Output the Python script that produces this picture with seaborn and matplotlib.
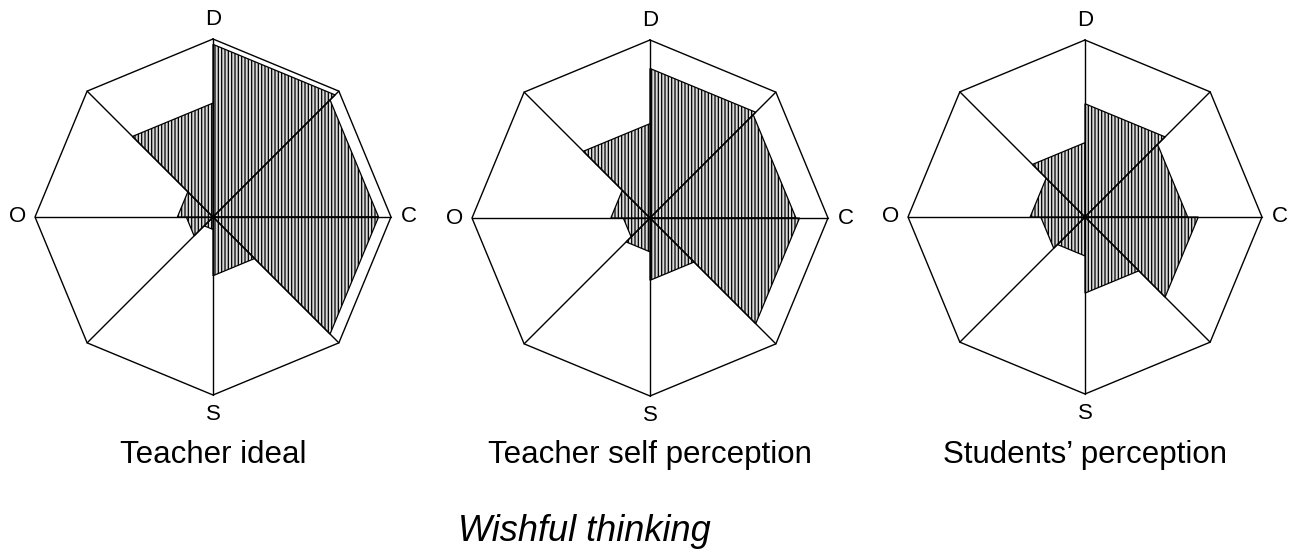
import numpy as np
import matplotlib
matplotlib.use('Agg')
import matplotlib.pyplot as plt
from matplotlib.patches import Polygon
import seaborn as sns

# Sector scores, clockwise from D: D-DC, DC-C, C-CS, CS-S, S-SO, SO-O, O-OD, OD-D
teacher_ideal = [0.97, 0.93, 0.93, 0.33, 0.07, 0.15, 0.20, 0.64]
teacher_self = [0.84, 0.82, 0.84, 0.35, 0.19, 0.15, 0.22, 0.53]
students = [0.64, 0.58, 0.64, 0.43, 0.22, 0.25, 0.31, 0.42]

panel_titles = ['Teacher ideal', 'Teacher self perception', 'Students\u2019 perception']
axis_labels = ['D', 'C', 'S', 'O']
main_title = 'Wishful thinking'

sns.set_theme(style='white')
plt.rcParams['font.family'] = ['Liberation Sans', 'DejaVu Sans']
plt.rcParams['text.color'] = 'black'
plt.rcParams['hatch.color'] = '#8a8a8a'
plt.rcParams['hatch.linewidth'] = 0.9

W, H = 1298, 556
fig = plt.figure(figsize=(W / 100, H / 100), dpi=100)
fig.patch.set_facecolor('white')

# panel centres and radius in pixels
centres = [(213, 217), (650, 218), (1085, 217)]
radius = [178, 178, 177]
L = 1.25

angles = np.deg2rad(90 - 45 * np.arange(9))
vx, vy = np.cos(angles), np.sin(angles)

for values, title, (cx, cy), R in zip([teacher_ideal, teacher_self, students],
                                      panel_titles, centres, radius):
    ax = fig.add_axes([(cx - L * R) / W, (H - cy - L * R) / H,
                       2 * L * R / W, 2 * L * R / H])
    ax.set_xlim(-L, L)
    ax.set_ylim(-L, L)
    ax.set_axis_off()
    ax.patch.set_alpha(0)

    # shaded sector triangles
    for i, v in enumerate(values):
        pts = [(0, 0), (v * vx[i], v * vy[i]), (v * vx[i + 1], v * vy[i + 1])]
        ax.add_patch(Polygon(pts, closed=True, facecolor='#dadada',
                             edgecolor='black', linewidth=0.9, hatch='|||||'))

    # octagon and spokes
    ax.plot(vx, vy, color='black', linewidth=1.0)
    for i in range(8):
        ax.plot([0, vx[i]], [0, vy[i]], color='black', linewidth=1.0)

    for lab, (tx, ty) in zip(axis_labels, [(0, 1.11), (1.1, 0), (0, -1.11), (-1.1, 0)]):
        ax.text(tx, ty, lab, ha='center', va='center', fontsize=16, clip_on=False)

    fig.text(cx / W, 1 - 463 / H, title, ha='center', va='baseline', fontsize=22.5)

fig.text(584 / W, 1 - 541 / H, main_title, ha='center', va='baseline',
         fontsize=26, style='italic')

fig.savefig('out.png', dpi=100)
